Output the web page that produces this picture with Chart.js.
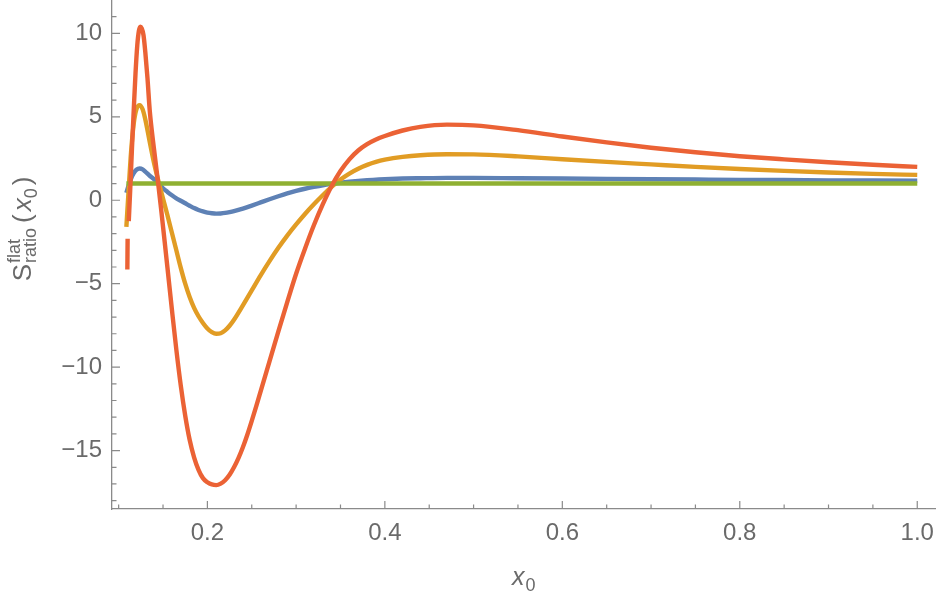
<!DOCTYPE html>
<html>
<head>
<meta charset="utf-8">
<script src="https://cdn.jsdelivr.net/npm/chart.js@4.4.1/dist/chart.umd.min.js"></script>
<style>
html, body { margin: 0; padding: 0; background: #fff; }
#wrap { width: 938px; height: 603px; }
</style>
</head>
<body>
<div id="wrap"><canvas id="chart-ratio" width="938" height="603"></canvas></div>
<script>
// x grid shared by the blue, orange and green curves
var xs = [0.1087, 0.111, 0.114, 0.117, 0.12, 0.1237, 0.127, 0.13, 0.135, 0.14,
	0.145, 0.15, 0.155, 0.16, 0.165, 0.17, 0.175, 0.18, 0.185, 0.19,
	0.195, 0.2, 0.205, 0.21, 0.215, 0.22, 0.225, 0.23, 0.24, 0.25,
	0.26, 0.27, 0.28, 0.29, 0.3, 0.31, 0.32, 0.33, 0.34, 0.35,
	0.36, 0.37, 0.38, 0.39, 0.4, 0.42, 0.44, 0.47, 0.5, 0.55,
	0.6, 0.65, 0.7, 0.75, 0.8, 0.85, 0.9, 0.95, 1.0]
var blue = [0.44, 0.85, 1.3, 1.62, 1.83, 1.9, 1.85, 1.72, 1.47, 1.25,
	1.0, 0.72, 0.5, 0.3, 0.12, -0.03, -0.18, -0.33, -0.47, -0.58,
	-0.67, -0.74, -0.78, -0.8, -0.79, -0.76, -0.71, -0.65, -0.5, -0.32,
	-0.13, 0.06, 0.24, 0.41, 0.56, 0.69, 0.8, 0.9, 0.98, 1.05,
	1.11, 1.16, 1.2, 1.23, 1.26, 1.3, 1.32, 1.34, 1.34, 1.32,
	1.3, 1.28, 1.26, 1.24, 1.22, 1.21, 1.19, 1.18, 1.17]
var orange = [-1.6, 0.4, 2.9, 4.6, 5.45, 5.7, 5.45, 4.85, 3.5, 2.2,
	1.1, 0.1, -0.9, -1.95, -3.0, -4.05, -5.0, -5.8, -6.45, -6.95,
	-7.35, -7.68, -7.9, -8.0, -7.97, -7.8, -7.52, -7.16, -6.3, -5.4,
	-4.5, -3.65, -2.85, -2.12, -1.45, -0.82, -0.24, 0.3, 0.8, 1.24,
	1.6, 1.89, 2.12, 2.3, 2.43, 2.6, 2.7, 2.76, 2.75, 2.63,
	2.46, 2.3, 2.15, 2.0, 1.87, 1.76, 1.66, 1.58, 1.52]
var green = [1, 1, 1, 1, 1, 1, 1, 1, 1, 1,
	1, 1, 1, 1, 1, 1, 1, 1, 1, 1,
	1, 1, 1, 1, 1, 1, 1, 1, 1, 1,
	1, 1, 1, 1, 1, 1, 1, 1, 1, 1,
	1, 1, 1, 1, 1, 1, 1, 1, 1, 1,
	1, 1, 1, 1, 1, 1, 1, 1, 1]

// red curve has its own grid (steeper, with the break near the start)
var redX = [0.1098, 0.1101, 0.1106, 0.1114, 0.113, 0.115, 0.117, 0.119, 0.121, 0.1228,
	0.1244, 0.126, 0.128, 0.13, 0.1325, 0.135, 0.1375, 0.14, 0.1425, 0.145,
	0.148, 0.1518, 0.155, 0.16, 0.165, 0.17, 0.175, 0.18, 0.185, 0.19,
	0.195, 0.2, 0.205, 0.21, 0.215, 0.22, 0.225, 0.23, 0.235, 0.24, 0.245, 0.25,
	0.255, 0.26, 0.265, 0.27, 0.28, 0.29, 0.3, 0.31, 0.32, 0.33,
	0.34, 0.35, 0.36, 0.37, 0.38, 0.39, 0.4, 0.42, 0.44, 0.47,
	0.5, 0.55, 0.6, 0.65, 0.7, 0.75, 0.8, 0.85, 0.9, 0.95, 1.0]
var red = [-4.15, -2.3, null, -1.25, 0.6, 3.1, 5.4, 7.6, 9.3, 10.15,
	10.4, 10.3, 9.9, 8.9, 7.3, 5.4, 4.1, 3.0, 1.9, 0.8,
	-0.6, -2.45, -4.05, -6.55, -8.95, -11.1, -12.9, -14.35, -15.4, -16.15,
	-16.65, -16.9, -17.03, -17.07, -16.98, -16.78, -16.45, -16.0, -15.45, -14.8, -14.05, -13.22,
	-12.35, -11.45, -10.55, -9.65, -7.85, -6.1, -4.4, -2.9, -1.5, -0.25,
	0.85, 1.75, 2.45, 2.98, 3.36, 3.64, 3.85, 4.18, 4.4, 4.53,
	4.49, 4.2, 3.82, 3.47, 3.15, 2.88, 2.64, 2.45, 2.28, 2.13, 2.0]

// axis ticks
var xMajor = [0.2, 0.4, 0.6, 0.8, 1.0]
var xMinor = [0.1, 0.15, 0.25, 0.3, 0.35, 0.45, 0.5, 0.55, 0.65, 0.7, 0.75, 0.85, 0.9, 0.95]
var yMajor = [-15, -10, -5, 0, 5, 10]
var yMinor = [-18, -17, -16, -14, -13, -12, -11, -9, -8, -7, -6, -4, -3, -2, -1,
	1, 2, 3, 4, 6, 7, 8, 9, 11]

var fontFam = '"Liberation Sans", Arial, sans-serif'
var textGray = '#6a6a6a'
var axisGray = '#8a8a8a'

function pts(xv, yv) {
	return xv.map(function(x, i) { return {x: x, y: yv[i]}; });
}

// Mathematica-style inward tick marks
var tickMarks = {
	id: 'tickMarks',
	beforeDatasetsDraw: function(chart) {
		var ctx = chart.ctx, sx = chart.scales.x, sy = chart.scales.y, a = chart.chartArea;
		ctx.save();
		ctx.strokeStyle = axisGray;
		ctx.lineWidth = 1.2;
		ctx.beginPath();
		xMajor.forEach(function(v) { var p = sx.getPixelForValue(v); ctx.moveTo(p, a.bottom); ctx.lineTo(p, a.bottom - 8); });
		xMinor.forEach(function(v) { var p = sx.getPixelForValue(v); ctx.moveTo(p, a.bottom); ctx.lineTo(p, a.bottom - 4.5); });
		yMajor.forEach(function(v) { var p = sy.getPixelForValue(v); ctx.moveTo(a.left, p); ctx.lineTo(a.left + 8, p); });
		yMinor.forEach(function(v) { var p = sy.getPixelForValue(v); ctx.moveTo(a.left, p); ctx.lineTo(a.left + 4.5, p); });
		ctx.stroke();
		ctx.restore();
	}
};

// axis titles with sub/superscripts
var axisTitles = {
	id: 'axisTitles',
	afterDraw: function(chart) {
		var ctx = chart.ctx;
		ctx.save();
		ctx.fillStyle = textGray;
		ctx.textBaseline = 'alphabetic';
		ctx.textAlign = 'left';

		// x title
		ctx.font = 'italic 25px ' + fontFam;
		ctx.fillText('x', 512, 585);
		var wx = ctx.measureText('x').width;
		ctx.font = '18px ' + fontFam;
		ctx.fillText('0', 512 + wx + 1, 591);

		// y title, rotated
		ctx.translate(31, 229);
		ctx.rotate(-Math.PI / 2);
		var big = '26px ' + fontFam, small = '18px ' + fontFam, ital = 'italic 26px ' + fontFam;
		ctx.font = big; var wS = ctx.measureText('S').width;
		ctx.font = small; var wSup = Math.max(ctx.measureText('flat').width, ctx.measureText('ratio').width);
		ctx.font = big; var wP = ctx.measureText('(').width, wQ = ctx.measureText(')').width;
		ctx.font = ital; var wX = ctx.measureText('x').width;
		ctx.font = small; var w0 = ctx.measureText('0').width;
		var total = wS + 1 + wSup + 5 + wP + 3 + wX + w0 + 3 + wQ;
		var u = -total / 2;
		ctx.font = big; ctx.fillText('S', u, 0); u += wS + 1;
		ctx.font = small; ctx.fillText('flat', u, -11); ctx.fillText('ratio', u, 5); u += wSup + 5;
		ctx.font = big; ctx.fillText('(', u, 0); u += wP + 3;
		ctx.font = ital; ctx.fillText('x', u, 0); u += wX;
		ctx.font = small; ctx.fillText('0', u, 6); u += w0 + 3;
		ctx.font = big; ctx.fillText(')', u, 0);
		ctx.restore();
	}
};

var ctx = document.getElementById('chart-ratio').getContext('2d');
var chartRatio = new Chart(ctx, {
	type: 'line',
	data: {
		datasets: [
			{ data: pts(xs, blue), borderColor: '#5e81b5', order: 4 },
			{ data: pts(xs, orange), borderColor: '#e19c24', order: 3 },
			{ data: pts(xs, green), borderColor: '#8fb032', order: 2 },
			{ data: pts(redX, red), borderColor: '#eb6235', order: 1 }
		]
	},
	options: {
		responsive: false,
		animation: false,
		devicePixelRatio: 1,
		layout: { padding: { left: 0, right: 3, top: 0, bottom: 0 } },
		elements: {
			point: { radius: 0, hoverRadius: 0 },
			line: { borderWidth: 4.4, cubicInterpolationMode: 'monotone', fill: false }
		},
		spanGaps: false,
		plugins: { legend: { display: false }, tooltip: { enabled: false } },
		scales: {
			x: {
				type: 'linear',
				min: 0.0925,
				max: 1.02,
				afterBuildTicks: function(s) { s.ticks = xMajor.map(function(v) { return {value: v}; }); },
				afterFit: function(s) { s.height = 94; s.paddingLeft = 0; s.paddingRight = 0; },
				ticks: {
					autoSkip: false, maxRotation: 0, padding: 10, color: textGray,
					font: { family: fontFam, size: 24 },
					callback: function(v) { return v.toFixed(1); }
				},
				grid: { display: false, drawTicks: false },
				border: { color: axisGray, width: 1.3 }
			},
			y: {
				type: 'linear',
				min: -18.5,
				max: 12,
				afterBuildTicks: function(s) { s.ticks = yMajor.map(function(v) { return {value: v}; }); },
				afterFit: function(s) { s.width = 112; s.paddingTop = 0; s.paddingBottom = 0; },
				ticks: {
					autoSkip: false, padding: 10, color: textGray,
					font: { family: fontFam, size: 24 },
					callback: function(v) { return v < 0 ? '\u2212' + Math.abs(v) : String(v); }
				},
				grid: { display: false, drawTicks: false },
				border: { color: axisGray, width: 1.3 }
			}
		}
	},
	plugins: [tickMarks, axisTitles]
});
</script>
</body>
</html>
